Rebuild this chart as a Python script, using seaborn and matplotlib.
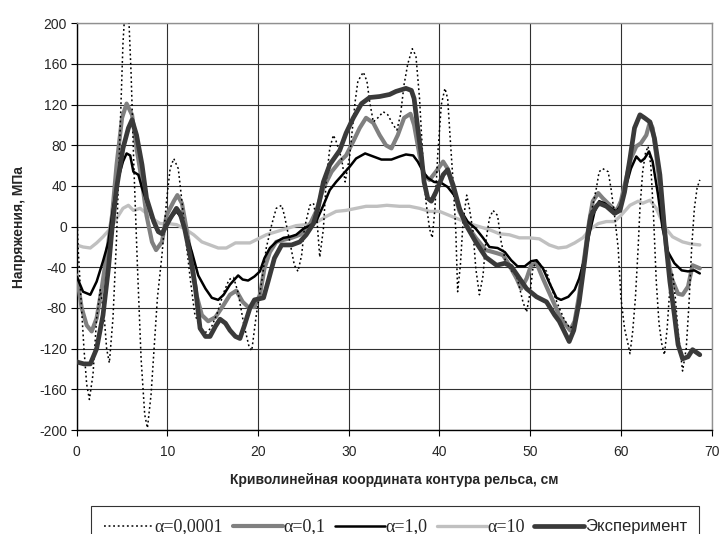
import matplotlib
matplotlib.use("Agg")
import matplotlib.pyplot as plt
import seaborn as sns
import numpy as np

# ---------------- data ----------------
x_a0001 = [0, 0.15, 0.4, 0.8, 1.1, 1.4, 1.8, 2.2, 2.6, 3.0,
           3.3, 3.6, 4.0, 4.4, 4.8, 5.1, 5.4, 5.7, 6.0, 6.3,
           6.7, 7.1, 7.5, 7.8, 8.2, 8.6, 8.9, 9.4, 9.9, 10.3,
           10.7, 11.2, 11.6, 12.0, 12.5, 13.0, 13.6, 14.2, 14.8, 15.5,
           16.2, 16.8, 17.3, 17.8, 18.4, 19.0, 19.3, 19.8, 20.4, 20.9,
           21.5, 22.0, 22.6, 22.9, 23.5, 24.0, 24.4, 24.8, 25.1, 25.7,
           26.1, 26.5, 26.8, 27.2, 27.5, 27.9, 28.3, 28.6, 29.2, 29.6,
           30.1, 30.7, 31.0, 31.6, 32.0, 32.3, 32.7, 33.2, 33.8, 34.3,
           34.9, 35.3, 35.7, 36.1, 36.5, 37.0, 37.4, 37.8, 38.0, 38.2,
           38.5, 38.9, 39.2, 39.5, 39.8, 40.2, 40.6, 40.9, 41.2, 41.5,
           41.8, 42.0, 42.3, 42.6, 43.0, 43.3, 43.7, 44.0, 44.4, 44.8,
           45.1, 45.5, 45.9, 46.4, 46.8, 47.3, 47.8, 48.5, 49.2, 49.6,
           50.0, 50.3, 50.7, 51.2, 51.8, 52.5, 53.2, 53.8, 54.4, 55.0,
           55.5, 56.0, 56.5, 57.0, 57.3, 57.6, 58.0, 58.6, 58.9, 59.3,
           59.7, 60.0, 60.4, 60.8, 61.0, 61.3, 61.6, 61.9, 62.1, 62.4,
           62.7, 63.0, 63.3, 63.6, 63.9, 64.2, 64.5, 64.8, 65.1, 65.4,
           65.7, 66.0, 66.3, 66.8, 67.2, 67.5, 67.8, 68.1, 68.4, 68.7]
y_a0001 = [20, -20, -60, -120, -155, -170, -145, -90, -62, -85,
           -120, -134, -90, -10, 100, 180, 225, 215, 150, 60,
           -40, -130, -185, -198, -165, -110, -70, -28, 25, 57,
           67, 57, 25, -10, -50, -85, -100, -104, -100, -85,
           -65, -52, -50, -65, -95, -118, -122, -87, -54, -21,
           2, 18, 21, 11, -15, -38, -44, -28, -2, 21,
           23, 5, -30, -2, 44, 77, 90, 84, 67, 44,
           70, 123, 143, 152, 143, 123, 103, 107, 113, 110,
           100, 95, 110, 140, 160, 175, 168, 126, 93, 61,
           25, -2, -11, 18, 70, 120, 136, 126, 84, 44,
           -5, -64, -38, 5, 31, 18, -5, -41, -67, -48,
           -15, 8, 16, 11, -15, -35, -42, -48, -74, -84,
           -64, -41, -34, -38, -44, -64, -80, -92, -100, -95,
           -70, -30, 5, 25, 38, 54, 57, 54, 38, 11,
           -21, -70, -100, -116, -125, -103, -70, -21, 18, 54,
           72, 79, 60, 10, -54, -95, -115, -126, -100, -60,
           -45, -70, -103, -142, -120, -77, -21, 18, 38, 46]

x_a01 = [0, 0.55, 1.1, 1.65, 2.2, 2.75, 3.3, 3.9, 4.4, 5.0,
         5.5, 6.1, 6.6, 7.2, 7.7, 8.3, 8.75, 9.4, 9.9, 10.7,
         11.1, 11.6, 12.1, 12.7, 13.2, 13.8, 14.5, 15.3, 16.2, 16.9,
         17.6, 18.3, 18.9, 19.6, 20.2, 20.7, 21.3, 22.0, 22.8, 23.7,
         24.6, 25.7, 26.4, 27.2, 28.1, 29.0, 29.7, 30.5, 31.2, 31.9,
         32.7, 33.4, 34.1, 34.7, 35.4, 36.1, 36.8, 37.2, 37.8, 38.3,
         38.9, 39.6, 40.4, 40.9, 41.5, 42.2, 42.9, 44.0, 45.1, 46.3,
         47.0, 47.7, 48.5, 49.0, 49.6, 50.1, 50.7, 51.4, 52.2, 52.7,
         53.2, 53.8, 54.4, 54.9, 55.4, 56.0, 56.5, 56.9, 57.5, 58.0,
         58.8, 59.5, 60.0, 60.6, 61.1, 61.7, 62.2, 62.8, 63.2, 63.5,
         63.9, 64.5, 65.0, 65.6, 66.3, 66.8, 67.4, 67.9, 68.7]
y_a01 = [-48, -80, -97, -103, -90, -61, -28, 11, 61, 107,
         121, 110, 77, 44, 11, -15, -23, -15, 11, 25,
         31, 23, -2, -34, -67, -87, -93, -89, -77, -67,
         -63, -74, -79, -79, -67, -41, -25, -15, -13, -11,
         -8, 2, 15, 38, 54, 64, 70, 84, 97, 107,
         102, 90, 80, 77, 90, 107, 111, 100, 70, 51,
         46, 54, 64, 57, 38, 15, 3, -11, -23, -26,
         -28, -38, -51, -61, -51, -38, -36, -51, -67, -77,
         -87, -95, -102, -93, -67, -28, 5, 25, 33, 28,
         21, 15, 25, 48, 67, 79, 82, 90, 103, 97,
         70, 25, -21, -51, -66, -67, -59, -38, -41]

x_a1 = [0, 0.7, 1.5, 2.2, 2.9, 3.5, 4.0, 4.6, 5.1, 5.5,
        5.9, 6.25, 6.8, 7.2, 7.7, 8.3, 8.8, 9.4, 9.9, 10.5,
        11.0, 11.6, 12.1, 12.7, 13.4, 14.2, 14.9, 15.6, 16.2, 16.9,
        17.3, 17.8, 18.3, 18.9, 19.6, 20.2, 20.7, 21.3, 22.0, 22.8,
        23.5, 24.2, 25.0, 25.7, 26.4, 27.2, 27.9, 28.6, 29.4, 30.1,
        30.8, 31.8, 32.7, 33.6, 34.7, 35.6, 36.3, 37.1, 37.6, 38.2,
        38.7, 39.4, 40.2, 40.9, 41.7, 42.4, 43.1, 44.0, 44.8, 45.5,
        46.4, 47.2, 47.9, 48.6, 49.4, 50.1, 50.7, 51.4, 52.2, 52.9,
        53.4, 54.2, 54.9, 55.4, 56.0, 56.5, 57.1, 57.6, 58.2, 58.9,
        59.5, 60.0, 60.6, 61.1, 61.7, 62.2, 62.6, 63.1, 63.5, 64.1,
        64.6, 65.2, 65.9, 66.7, 67.4, 68.1, 68.7]
y_a1 = [-49, -64, -67, -54, -34, -15, 18, 48, 64, 72,
        70, 54, 51, 38, 25, 8, -3, -7, 2, 10,
        15, 8, -8, -25, -48, -61, -70, -72, -67, -57,
        -53, -48, -52, -53, -49, -44, -31, -21, -15, -11,
        -10, -8, -2, 1, 5, 21, 36, 44, 52, 59,
        67, 72, 69, 66, 66, 69, 71, 70, 64, 54,
        48, 44, 43, 39, 30, 15, 5, -2, -11, -20,
        -21, -25, -33, -39, -39, -34, -33, -41, -57, -70,
        -72, -69, -62, -51, -31, -8, 15, 25, 23, 18,
        15, 21, 41, 57, 69, 64, 67, 74, 64, 31,
        -2, -25, -36, -43, -44, -43, -46]

x_a10 = [0, 0.7, 1.5, 2.2, 2.9, 3.7, 4.4, 5.1, 5.7, 6.25,
         7.0, 7.7, 8.5, 9.2, 10.1, 11.0, 11.9, 12.9, 13.8, 14.7,
         15.6, 16.5, 17.5, 18.0, 19.1, 20.0, 20.9, 22.0, 23.1, 24.2,
         25.3, 26.4, 27.5, 28.6, 29.7, 30.8, 31.9, 33.1, 34.2, 35.6,
         36.7, 37.8, 38.9, 40.0, 41.1, 42.2, 43.3, 44.4, 45.5, 46.6,
         47.7, 48.8, 49.9, 51.0, 52.1, 53.1, 54.0, 54.9, 55.8, 56.7,
         57.5, 58.4, 59.3, 60.0, 61.0, 61.9, 62.4, 63.2, 63.9, 64.8,
         65.7, 66.8, 67.7, 68.7]
y_a10 = [-18, -20, -21, -16, -10, -2, 8, 18, 21, 16,
         18, 13, 7, 3, 3, 2, -2, -8, -15, -18,
         -21, -21, -16, -16, -16, -12, -8, -5, -2, 1,
         2, 4, 10, 15, 16, 18, 20, 20, 21, 20,
         20, 18, 15, 15, 11, 7, 3, 0, -3, -7,
         -8, -11, -11, -12, -18, -21, -20, -16, -11, -2,
         3, 5, 5, 11, 21, 25, 23, 26, 18, 0,
         -10, -15, -17, -18]

x_exp = [0, 0.8, 1.5, 2.2, 2.9, 3.5, 3.9, 4.4, 5.1, 5.7,
         6.1, 6.6, 7.2, 7.7, 8.5, 9.0, 9.4, 9.7, 10.3, 11.0,
         11.4, 11.9, 12.5, 13.1, 13.6, 14.2, 14.7, 15.3, 15.8, 16.4,
         16.9, 17.5, 18.0, 18.5, 19.1, 19.6, 20.6, 21.1, 21.8, 22.6,
         23.7, 24.6, 25.3, 26.1, 26.6, 27.2, 27.9, 29.0, 29.7, 30.5,
         31.4, 32.3, 33.4, 34.5, 35.2, 36.3, 36.9, 37.2, 37.6, 38.0,
         38.3, 38.7, 39.1, 39.6, 40.4, 40.9, 41.5, 42.2, 42.9, 44.0,
         45.1, 46.3, 47.2, 47.9, 48.6, 49.6, 50.7, 51.8, 52.7, 53.2,
         53.7, 54.3, 54.8, 55.4, 56.0, 56.4, 56.7, 57.3, 57.6, 58.4,
         59.3, 59.9, 60.4, 61.0, 61.5, 62.1, 62.6, 63.2, 63.7, 64.3,
         64.8, 65.4, 65.9, 66.3, 66.8, 67.4, 67.9, 68.7]
y_exp = [-133, -135, -135, -120, -87, -41, -2, 38, 77, 97,
         105, 90, 61, 28, 5, -5, -7, -2, 8, 18,
         13, -2, -28, -61, -100, -108, -108, -98, -91, -95,
         -102, -108, -110, -97, -80, -72, -70, -54, -31, -18,
         -18, -15, -8, 3, 18, 44, 61, 75, 92, 107,
         121, 127, 128, 130, 133, 136, 134, 126, 97, 70,
         44, 28, 25, 34, 51, 56, 41, 18, 2, -15,
         -30, -38, -36, -39, -48, -61, -69, -74, -87, -93,
         -102, -113, -102, -74, -34, -5, 11, 20, 23, 20,
         13, 16, 34, 67, 97, 110, 107, 103, 87, 51,
         -2, -54, -87, -116, -130, -128, -121, -126]

labels = ["α=0,0001", "α=0,1", "α=1,0", "α=10", "Эксперимент"]
x_ticks = [0, 10, 20, 30, 40, 50, 60, 70]
y_ticks = [-200, -160, -120, -80, -40, 0, 40, 80, 120, 160, 200]
x_title = "Криволинейная координата контура рельса, см"
y_title = "Напряжения, МПа"

# ---------------- plot ----------------
sns.set_theme(style="white")
plt.rcParams["font.family"] = ["Liberation Sans", "DejaVu Sans"]

fig = plt.figure(figsize=(7.21, 5.34), dpi=100)
ax = fig.add_axes([76.7 / 721, 1 - 430 / 534, (711.6 - 76.7) / 721, (430 - 23.3) / 534])

series = [
    (x_a0001, y_a0001, dict(color="black", lw=1.1, ls=(0, (1.2, 1.8)), zorder=4)),
    (x_a01, y_a01, dict(color="#808080", lw=3.0, ls="-", zorder=3)),
    (x_a1, y_a1, dict(color="black", lw=1.8, ls="-", zorder=5)),
    (x_a10, y_a10, dict(color="#c0c0c0", lw=2.4, ls="-", zorder=2)),
    (x_exp, y_exp, dict(color="#3a3a3a", lw=3.4, ls="-", zorder=6)),
]
for (xs, ys, st), lab in zip(series, labels):
    sns.lineplot(x=np.array(xs, float), y=np.array(ys, float), ax=ax, label=lab,
                 estimator=None, sort=False, color=st["color"], linewidth=st["lw"],
                 linestyle=st["ls"], zorder=st["zorder"])

ax.set_xlim(0, 70)
ax.set_ylim(-200, 200)
ax.set_xticks(x_ticks)
ax.set_yticks(y_ticks)
ax.set_xticklabels([str(v) for v in x_ticks])
ax.set_yticklabels([str(v) for v in y_ticks])
ax.tick_params(axis="both", labelsize=10, length=4, width=0.8, direction="out",
               color="black", bottom=True, left=True)
ax.tick_params(axis="x", pad=7)
ax.tick_params(axis="y", pad=3)
ax.grid(True, color="#303030", linewidth=0.8)
ax.set_axisbelow(True)
for side in ["left", "bottom"]:
    ax.spines[side].set_color("black")
    ax.spines[side].set_linewidth(1.0)
for side in ["top", "right"]:
    ax.spines[side].set_color("#909090")
    ax.spines[side].set_linewidth(1.0)
ax.set_xlabel("")
ax.set_ylabel("")

fig.text(394 / 721, 1 - 480 / 534, x_title, ha="center", va="center",
         fontsize=10, fontweight="bold")
fig.text(19 / 721, 1 - 227 / 534, y_title, ha="center", va="center",
         rotation=90, fontsize=10, fontweight="bold")

ax.get_legend().remove()
handles, labs = ax.get_legend_handles_labels()
leg = fig.legend(handles, labs, loc="upper left", bbox_to_anchor=(91.4 / 721, 1 - 506 / 534),
                 ncol=5, frameon=True, fancybox=False, edgecolor="black",
                 fontsize=12, handlelength=3.0, handletextpad=0.05, columnspacing=0.55,
                 borderpad=0.75, borderaxespad=0)
leg.get_frame().set_linewidth(0.8)
for i, t in enumerate(leg.get_texts()):
    if i < 4:
        t.set_fontfamily(["Liberation Serif", "DejaVu Serif"])
        t.set_fontsize(13)
    else:
        t.set_fontfamily(["Liberation Sans", "DejaVu Sans"])

fig.savefig("out.png", dpi=100)
